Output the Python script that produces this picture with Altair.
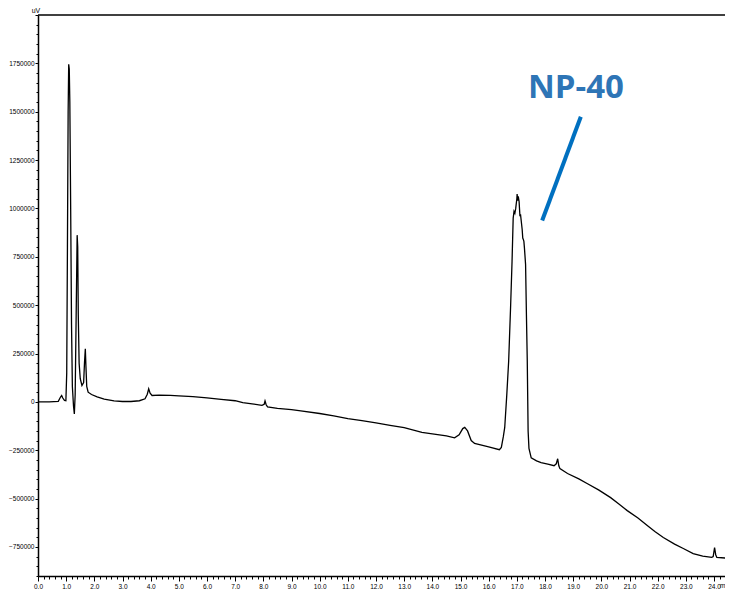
import altair as alt
import pandas as pd

# Chromatogram trace (retention time in min, detector signal in uV)
time_min = [0.00, 0.40, 0.72, 0.80, 0.84, 0.88, 0.94, 0.99, 1.02, 1.045, 1.07, 1.09, 1.11, 1.13, 1.16,
            1.19, 1.22, 1.26, 1.29, 1.32, 1.355, 1.39, 1.41, 1.43, 1.46, 1.50, 1.56, 1.62, 1.65, 1.68,
            1.70, 1.73, 1.78, 1.90, 2.10, 2.35, 2.70, 3.00, 3.30, 3.60, 3.80, 3.88, 3.93, 3.98, 4.05,
            4.30, 4.70, 5.00, 5.50, 6.00, 6.50, 7.00, 7.27, 7.60, 7.95, 8.03, 8.06, 8.10, 8.15, 8.50,
            9.00, 9.33, 10.0, 10.5, 11.0, 11.5, 12.0, 12.5, 13.0, 13.63, 14.0, 14.5, 14.79, 14.95, 15.08,
            15.15, 15.25, 15.38, 15.5, 16.0, 16.38, 16.45, 16.52, 16.57, 16.64, 16.71, 16.78, 16.83, 16.87,
            16.90, 16.93, 16.96, 17.00, 17.01, 17.03, 17.05, 17.08, 17.11, 17.13, 17.16, 17.19, 17.21,
            17.23, 17.25, 17.27, 17.31, 17.34, 17.37, 17.40, 17.43, 17.51, 17.70, 17.86, 18.10, 18.32,
            18.40, 18.45, 18.49, 18.53, 18.80, 19.20, 19.51, 19.90, 20.33, 20.60, 20.92, 21.30, 21.63,
            21.90, 22.20, 22.60, 22.91, 23.26, 23.60, 23.92, 23.97, 24.02, 24.06, 24.10, 24.40, 24.67]
signal_k = [0, 0, 3, 25, 33, 20, 8, 6, 150, 800, 1500, 1745, 1720, 1550, 1000,
            400, 80, -20, -62, 40, 450, 862, 800, 450, 200, 120, 85, 100, 200, 275,
            190, 80, 50, 38, 26, 14, 5, 2, 2, 6, 16, 40, 68, 45, 33,
            35, 34, 31, 27, 21, 13, 6, -4, -10, -18, -12, 5, -15, -26, -34,
            -40, -46, -60, -72, -86, -97, -108, -121, -133, -158, -165, -176, -186, -170, -138,
            -132, -150, -200, -215, -232, -247, -235, -180, -132, 30, 211, 500, 727, 950,
            985, 975, 1000, 1050, 1074, 1040, 1062, 1036, 960, 969, 930, 890, 847,
            840, 830, 795, 711, 450, 211, -150, -240, -289, -305, -314, -322, -330,
            -320, -294, -330, -345, -370, -398, -423, -455, -495, -525, -562, -600, -639,
            -670, -701, -735, -758, -784, -797, -804, -800, -753, -790, -804, -807, -809]
signal_uv = [v * 1000 for v in signal_k]

# Axis tick values
x_tick_values = [round(i * 0.2, 1) for i in range(0, 123)]
y_tick_values = list(range(-900000, 2000001, 50000))

# Annotation
label_text = ["NP-40"]
label_time = [19.1]
label_signal = [1624000]
pointer_time = [19.27]
pointer_time2 = [17.90]
pointer_signal = [1474000]
pointer_signal2 = [938000]

df = pd.DataFrame({"t": time_min, "v": signal_uv})

LABEL_FONT = "Liberation Sans"
W, H = 687, 561

x_scale = alt.Scale(domain=[0, 24.39], nice=False, zero=False)
y_scale = alt.Scale(domain=[-900000, 2000000], nice=False, zero=False)

x_axis = alt.Axis(
    values=x_tick_values, tickCount=len(x_tick_values),
    labelExpr="abs(datum.value - round(datum.value)) < 0.01 ? format(datum.value, '.1f') : ''",
    tickSize={"condition": {"test": "abs(datum.value - round(datum.value)) < 0.01", "value": 5}, "value": 3},
    labelOverlap=False, labelFlush=False,
    labelFont=LABEL_FONT, labelFontSize=6.5, labelColor="black", labelPadding=2,
    domainColor="black", domainWidth=1.5, tickColor="black", tickWidth=1,
    grid=False, title=None,
)
y_axis = alt.Axis(
    values=y_tick_values, tickCount=len(y_tick_values),
    labelExpr="datum.value % 250000 === 0 && datum.value > -900000 && datum.value < 2000000 ? format(datum.value, 'd') : ''",
    tickSize={"condition": {"test": "datum.value % 250000 === 0", "value": 3}, "value": 2},
    labelOverlap=False, labelFlush=False,
    labelFont=LABEL_FONT, labelFontSize=6.5, labelColor="black", labelPadding=1,
    domainColor="black", domainWidth=1.5, tickColor="black", tickWidth=1,
    grid=False, title=None,
)

line = alt.Chart(df).mark_line(color="black", strokeWidth=1.3, clip=True).encode(
    x=alt.X("t:Q", scale=x_scale, axis=x_axis),
    y=alt.Y("v:Q", scale=y_scale, axis=y_axis),
)

top_border = alt.Chart(pd.DataFrame({"k": [0]})).mark_rule(color="black", strokeWidth=1.5).encode(
    x=alt.value(0), x2=alt.value(W), y=alt.value(0)
)

label = alt.Chart(pd.DataFrame({"t": label_time, "v": label_signal, "txt": label_text})).mark_text(
    font="Open Sans", fontSize=33, fontWeight="bold", color="#2E75B6",
    align="center", baseline="middle",
).encode(x=alt.X("t:Q", scale=x_scale), y=alt.Y("v:Q", scale=y_scale), text="txt:N")

pointer = alt.Chart(pd.DataFrame({"t": pointer_time, "t2": pointer_time2,
                                  "v": pointer_signal, "v2": pointer_signal2})).mark_rule(
    color="#0070C0", strokeWidth=4, strokeCap="butt",
).encode(x=alt.X("t:Q", scale=x_scale), x2="t2:Q",
         y=alt.Y("v:Q", scale=y_scale), y2="v2:Q")

unit_y = alt.Chart(pd.DataFrame({"txt": ["uV"]})).mark_text(
    font=LABEL_FONT, fontSize=7, color="black", align="center", baseline="bottom",
).encode(x=alt.value(-2), y=alt.value(-1), text="txt:N")

unit_x = alt.Chart(pd.DataFrame({"txt": ["m"]})).mark_text(
    font=LABEL_FONT, fontSize=6.5, color="black", align="left", baseline="top",
).encode(x=alt.value(W - 5), y=alt.value(H + 7), text="txt:N")

chart = alt.layer(line, top_border, pointer, label, unit_y, unit_x).properties(
    width=W, height=H,
    autosize=alt.AutoSizeParams(type="none"),
    padding={"left": 30, "top": 7, "right": 0, "bottom": 17},
).configure(
    background="white",
    view=alt.ViewConfig(stroke=None),
)

chart.save("out.html", embed_options={"renderer": "svg", "actions": False})
